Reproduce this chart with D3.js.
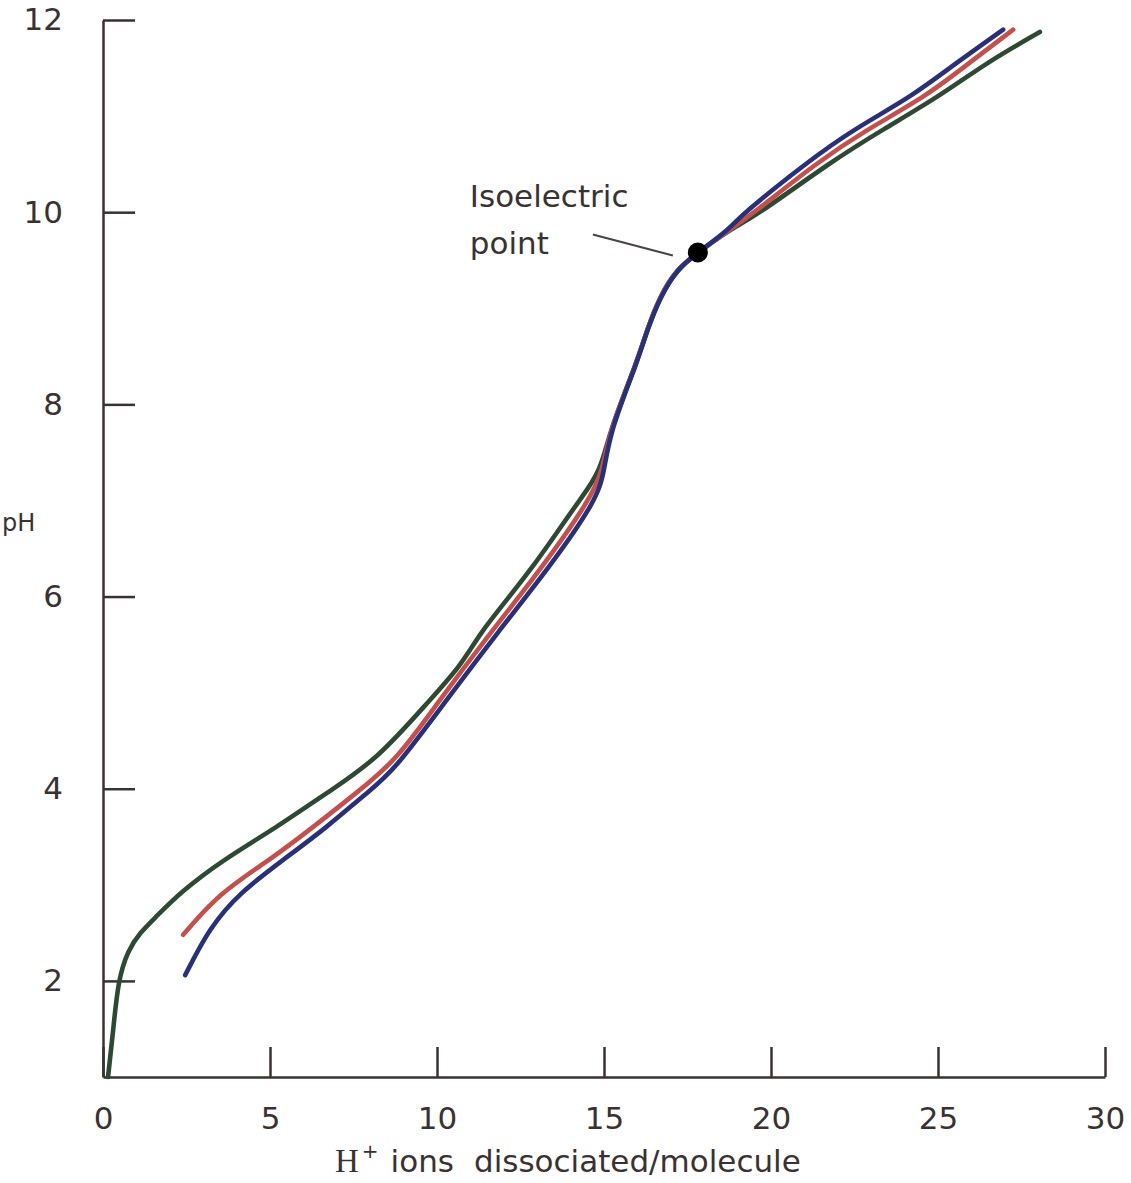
<!DOCTYPE html>
<html>
<head>
<meta charset="utf-8">
<script src="https://cdn.jsdelivr.net/npm/d3@7"></script>
<style>
  html, body { margin: 0; padding: 0; background: #ffffff; }
  svg { display: block; }
</style>
</head>
<body>
<div id="chart"></div>
<script>
// ---- data ----
const xTicks = [0, 5, 10, 15, 20, 25, 30];
const yTicks = [2, 4, 6, 8, 10, 12];

const greenX  = [0.15, 0.3, 0.45, 0.75, 1.1, 1.6, 2.31, 3.59, 5.21, 6.71, 8.2, 9.8, 10.69, 11.29, 12.1, 12.87, 13.6, 14.28, 14.9, 15.18, 15.99, 16.29, 16.68, 17.19, 17.81, 18.77, 19.55, 21.77, 23.35, 25.06, 26.47, 28.05];
const greenPH = [1.0, 1.46, 2.01, 2.32, 2.5, 2.67, 2.92, 3.26, 3.60, 3.96, 4.30, 4.93, 5.27, 5.62, 5.97, 6.31, 6.67, 7.01, 7.3, 7.74, 8.44, 8.78, 9.13, 9.41, 9.58, 9.82, 9.96, 10.52, 10.86, 11.21, 11.56, 11.875];

const redX  = [2.40, 3.50, 5.0, 6.29, 7.60, 8.8, 10.09, 11.59, 13.17, 14.58, 14.95, 15.18, 15.99, 16.29, 16.68, 17.19, 17.81, 18.77, 19.37, 21.38, 22.87, 24.67, 25.96, 27.25];
const redPH = [2.48, 2.92, 3.26, 3.60, 3.96, 4.30, 4.93, 5.62, 6.31, 7.01, 7.3, 7.74, 8.44, 8.78, 9.13, 9.41, 9.58, 9.82, 9.96, 10.52, 10.86, 11.21, 11.56, 11.9];

const blueX  = [2.46, 3.2, 4.1, 5.39, 6.71, 7.9, 8.68, 10.3, 11.8, 13.38, 14.79, 15.0, 15.2, 16.0, 16.3, 16.7, 17.2, 17.81, 18.75, 19.07, 21.08, 22.46, 24.25, 25.57, 26.95];
const bluePH = [2.06, 2.56, 2.92, 3.26, 3.60, 3.96, 4.17, 4.93, 5.62, 6.31, 7.01, 7.3, 7.74, 8.44, 8.78, 9.13, 9.41, 9.58, 9.82, 9.96, 10.52, 10.86, 11.21, 11.56, 11.9];

const isoX = 17.81, isoPH = 9.58;
const isoLabel = ["Isoelectric", "point"];
const xLabelParts = ["H", "+", "ions", "dissociated/molecule"];
const yLabel = "pH";

// ---- layout ----
const W = 1131, H = 1183;
const svg = d3.select("#chart").append("svg").attr("width", W).attr("height", H);

const x = d3.scaleLinear().domain([0, 30]).range([103, 1105]);
const y = d3.scaleLinear().domain([1, 12]).range([1077, 20]);

const axisColor = "#3a3232";
const textColor = "#3a3232";
const font = "'DejaVu Sans', sans-serif";

// axes
const yAxis = d3.axisLeft(y).tickValues(yTicks).tickSizeInner(-32).tickSizeOuter(0).tickPadding(30).tickFormat(d3.format("d"));
const gy = svg.append("g").attr("transform", `translate(${x(0)},0)`).call(yAxis);

const xAxis = d3.axisBottom(x).tickValues(xTicks).tickSizeInner(-30).tickSizeOuter(0).tickPadding(30).tickFormat(d3.format("d"));
const gx = svg.append("g").attr("transform", `translate(0,${y(1)})`).call(xAxis);

[gx, gy].forEach(g => {
  g.select(".domain").attr("stroke", axisColor).attr("stroke-width", 2.5);
  g.selectAll(".tick line").attr("stroke", axisColor).attr("stroke-width", 2.5);
  g.selectAll(".tick text").attr("fill", textColor).style("font-family", font).style("font-size", "31px");
});
gy.selectAll(".tick text").attr("x", -40);

// curves
const line = d3.line().x(d => x(d[0])).y(d => y(d[1])).curve(d3.curveBasis);
const series = [
  { xs: greenX, ps: greenPH, color: "#2c4a33" },
  { xs: redX, ps: redPH, color: "#c64f4a" },
  { xs: blueX, ps: bluePH, color: "#27307a" }
];
series.forEach(s => {
  const pts = s.xs.map((v, i) => [v, s.ps[i]]);
  svg.append("path").datum(pts).attr("d", line)
    .attr("fill", "none").attr("stroke", s.color).attr("stroke-width", 4.6)
    .attr("stroke-linecap", "round").attr("stroke-linejoin", "round");
});

// isoelectric point
const px = x(isoX), py = y(isoPH);
svg.append("line")
  .attr("x1", px - 105).attr("y1", py - 18)
  .attr("x2", px - 25).attr("y2", py + 3)
  .attr("stroke", "#4a4444").attr("stroke-width", 2);
svg.append("circle").attr("cx", px).attr("cy", py).attr("r", 10).attr("fill", "#000");

const iso = svg.append("text").attr("fill", textColor).style("font-family", font).style("font-size", "31px");
iso.append("tspan").attr("x", px - 228).attr("y", py - 46).text(isoLabel[0]);
iso.append("tspan").attr("x", px - 228).attr("y", py + 1).text(isoLabel[1]);

// x-axis label
const xl = svg.append("text").attr("x", 335).attr("y", 1172).attr("fill", textColor).style("font-size", "31px");
xl.append("tspan").style("font-family", "'Liberation Serif', serif").style("font-size", "33px").text(xLabelParts[0]);
xl.append("tspan").style("font-family", font).style("font-size", "20px").attr("dy", -14).attr("dx", 3).text(xLabelParts[1]);
xl.append("tspan").style("font-family", font).attr("dy", 14).attr("dx", 12).text(xLabelParts[2]);
xl.append("tspan").style("font-family", font).attr("dx", 20).text(xLabelParts[3]);

// y-axis label (at the left edge, as in the reference)
svg.append("text").attr("x", 2).attr("y", 531).attr("text-anchor", "start")
  .attr("fill", textColor).style("font-family", font).style("font-size", "24px").text(yLabel);
</script>
</body>
</html>
